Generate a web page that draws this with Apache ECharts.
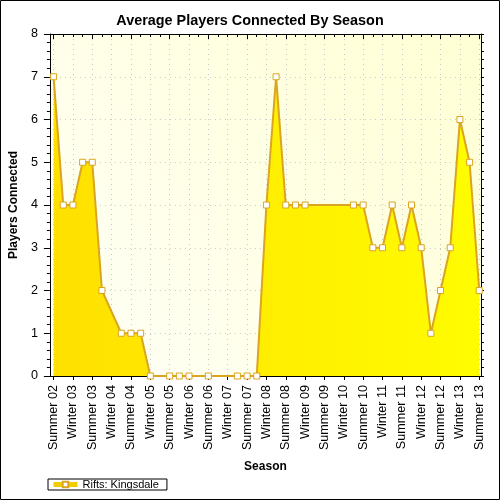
<!DOCTYPE html>
<html>
<head>
<meta charset="utf-8">
<script src="https://cdn.jsdelivr.net/npm/echarts@6/dist/echarts.min.js"></script>
<style>
html,body{margin:0;padding:0;background:#fff;}
#chart{width:500px;height:500px;}
</style>
</head>
<body>
<div id="chart"></div>
<script>
// Season slot index (quarter steps; labels every 2 slots)
const seasonIndex = [0,1,2,3,4,5,7,8,9,10,12,13,14,16,19,20,21,22,23,24,25,26,31,32,33,34,35,36,37,38,39,40,41,42,43,44];
const players     = [7,4,4,5,5,2,1,1,1,0, 0, 0, 0, 0, 0, 0, 0, 4, 7, 4, 4, 4, 4, 4, 3, 3, 4, 3, 4, 3, 1, 2, 3, 6, 5, 2];
const tickLabels = ['Summer 02','Winter 03','Summer 03','Winter 04','Summer 04','Winter 05','Summer 05','Winter 06',
  'Summer 06','Winter 07','Summer 07','Winter 08','Summer 08','Winter 09','Summer 09','Winter 10','Summer 10',
  'Winter 11','Summer 11','Winter 12','Summer 12','Winter 13','Summer 13'];
const seriesName = 'Rifts: Kingsdale';

const labelPos = tickLabels.map((_, i) => i * 2);
const slotPos = [];
for (let i = 0; i <= labelPos[labelPos.length - 1]; i++) slotPos.push(i);
const yearPos = labelPos.filter((_, i) => i % 2 === 0);

const FONT = '"Liberation Sans", Arial, sans-serif';
const XMIN = -0.38, XMAX = 44.18;
const GRID_LINE = {show: true, lineStyle: {color: '#C8C8C8', type: [1, 4], width: 1}};

const chart = echarts.init(document.getElementById('chart'), null, {renderer: 'canvas'});
chart.setOption({
  animation: false,
  textStyle: {fontFamily: FONT},
  title: {
    text: 'Average Players Connected By Season',
    left: 'center', top: 9,
    textStyle: {fontSize: 14.4, fontWeight: 'bold', color: '#000', fontFamily: FONT}
  },
  graphic: [{
    type: 'rect', silent: true,
    shape: {x: 0.5, y: 0.5, width: 499, height: 499},
    style: {fill: null, stroke: '#000', lineWidth: 1}
  }],
  legend: {
    left: 48, top: 479,
    data: [seriesName],
    borderColor: '#000', borderWidth: 1, borderRadius: 0,
    padding: [0, 8, 0, 3],
    itemWidth: 24, itemHeight: 7,
    lineStyle: {color: '#F2CE00', width: 5},
    textStyle: {fontSize: 11, color: '#000', fontFamily: FONT}
  },
  grid: {
    left: 49, right: 19, top: 34, bottom: 124,
    show: true, borderWidth: 0,
    backgroundColor: new echarts.graphic.LinearGradient(0, 1, 1, 0, [
      {offset: 0, color: '#FFFFF7'},
      {offset: 1, color: '#FFFFD4'}
    ])
  },
  xAxis: [{
    type: 'value', position: 'bottom', min: XMIN, max: XMAX,
    name: 'Season', nameLocation: 'middle', nameGap: 85,
    nameTextStyle: {fontSize: 12, fontWeight: 'bold', color: '#000', fontFamily: FONT},
    axisLine: {show: true, onZero: false, lineStyle: {color: '#000', width: 1}},
    axisTick: {show: true, customValues: labelPos, length: 4, lineStyle: {color: '#000'}},
    axisLabel: {
      customValues: labelPos, rotate: 90, margin: 9,
      fontSize: 12.6, color: '#000', fontFamily: FONT,
      formatter: v => tickLabels[Math.round(v / 2)]
    },
    splitLine: GRID_LINE
  }, {
    type: 'value', position: 'top', min: XMIN, max: XMAX,
    axisLine: {show: true, onZero: false, lineStyle: {color: '#000', width: 1}},
    axisTick: {show: true, inside: true, customValues: slotPos, length: 3, lineStyle: {color: '#000'}},
    axisLabel: {show: false, customValues: slotPos},
    splitLine: {show: false}
  }, {
    type: 'value', position: 'top', min: XMIN, max: XMAX,
    axisLine: {show: false, onZero: false},
    axisTick: {show: true, inside: true, customValues: yearPos, length: 5, lineStyle: {color: '#000'}},
    axisLabel: {show: false, customValues: yearPos},
    splitLine: {show: false}
  }],
  yAxis: [{
    type: 'value', position: 'left', min: 0, max: 8, interval: 1,
    name: 'Players Connected', nameLocation: 'middle', nameGap: 25,
    nameTextStyle: {fontSize: 12, fontWeight: 'bold', color: '#000', fontFamily: FONT},
    axisLine: {show: true, onZero: false, lineStyle: {color: '#000', width: 1}},
    axisTick: {show: true, length: 6, lineStyle: {color: '#000'}},
    minorTick: {show: true, splitNumber: 5, length: 3, lineStyle: {color: '#000'}},
    axisLabel: {fontSize: 12.6, color: '#000', margin: 12, fontFamily: FONT},
    splitLine: GRID_LINE
  }, {
    type: 'value', position: 'right', min: 0, max: 8, interval: 1,
    axisLine: {show: true, onZero: false, lineStyle: {color: '#000', width: 1}},
    axisTick: {show: true, length: 3, lineStyle: {color: '#000'}},
    minorTick: {show: true, splitNumber: 5, length: 3, lineStyle: {color: '#000'}},
    axisLabel: {show: false},
    splitLine: {show: false}
  }],
  series: [{
    name: seriesName,
    type: 'line',
    xAxisIndex: 0, yAxisIndex: 0,
    data: seasonIndex.map((x, i) => [x, players[i]]),
    symbol: 'rect', symbolSize: 6, showAllSymbol: true,
    itemStyle: {color: '#FFFFFF', borderColor: '#DAA520', borderWidth: 1},
    lineStyle: {color: '#DAA520', width: 2},
    areaStyle: {
      opacity: 1,
      color: new echarts.graphic.LinearGradient(0, 0, 1, 0, [
        {offset: 0, color: '#FFE000'},
        {offset: 1, color: '#FFFC00'}
      ])
    }
  }]
});
</script>
</body>
</html>
